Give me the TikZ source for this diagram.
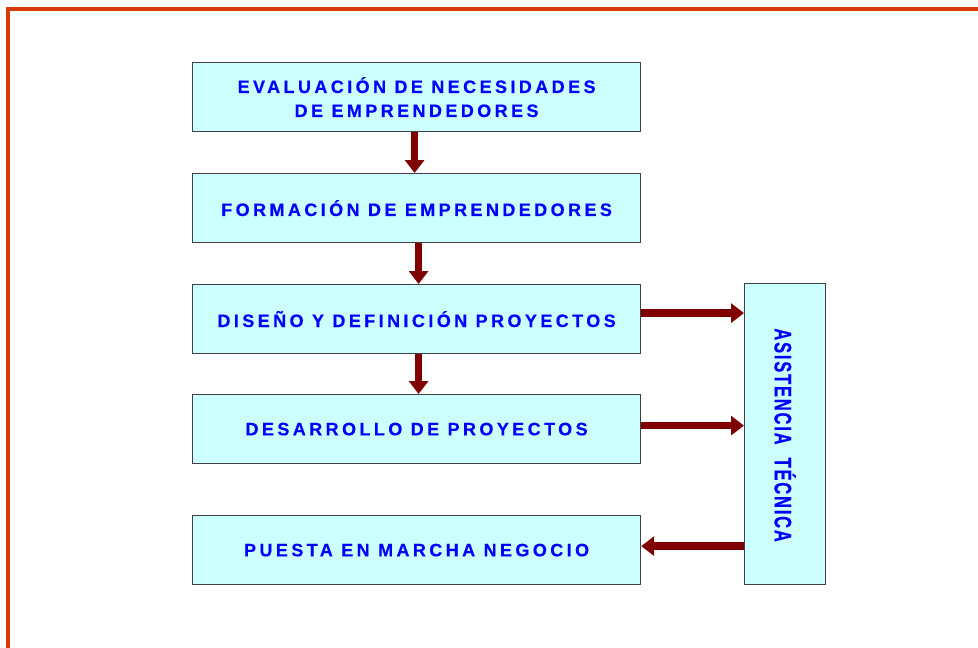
\documentclass[tikz,border=0pt]{standalone}
\usepackage{graphicx}
\usepackage{fontspec}
\setmainfont{Liberation Sans}
\newfontfamily\boxfont[LetterSpace=19,BoldFont={Liberation Sans Bold},BoldFeatures={LetterSpace=19,FakeBold=0.4}]{Liberation Sans}
\newfontfamily\sidefont[LetterSpace=11,BoldFont={Liberation Sans Bold},BoldFeatures={LetterSpace=11,FakeBold=0.6}]{Liberation Sans}
\usetikzlibrary{arrows.meta}
\definecolor{frame}{RGB}{216,60,0}
\definecolor{boxfill}{RGB}{204,255,255}
\definecolor{arrowred}{RGB}{128,0,0}
\definecolor{txtblue}{RGB}{0,0,255}
\begin{document}
\begin{tikzpicture}[x=1pt,y=-1pt,
  stepbox/.style={draw=black!75,line width=1.2pt,fill=boxfill,minimum width=448pt,minimum height=69pt,inner sep=0pt,anchor=north west,text=txtblue,font=\boxfont\bfseries\fontsize{18}{24}\selectfont,align=center},
  flow/.style={draw=arrowred,line width=7.5pt,-{Triangle[width=19pt,length=13pt]}}]
\useasboundingbox (0,0) rectangle (978,648);
\draw[frame,line width=4pt] (8,700) -- (8,9) -- (990,9);
\node[stepbox] (a) at (192,62) {EVALUACIÓN DE NECESIDADES\\DE EMPRENDEDORES};
\node[stepbox] (b) at (192,173) {FORMACIÓN DE EMPRENDEDORES};
\node[stepbox] (c) at (192,284) {DISEÑO Y DEFINICIÓN PROYECTOS};
\node[stepbox] (d) at (192,394) {DESARROLLO DE PROYECTOS};
\node[stepbox] (e) at (192,515) {PUESTA EN MARCHA NEGOCIO};
\node[draw=black!75,line width=1.2pt,fill=boxfill,minimum width=81pt,minimum height=301pt,inner sep=0pt,anchor=north west] (t) at (744,283) {};
\node[rotate=-90,text=txtblue,font=\sidefont\bfseries\fontsize{16.5}{20}\selectfont] (tl) at ([yshift=-1pt]t.center) {\scalebox{1}[1.45]{ASISTENCIA\hspace{13pt}TÉCNICA}};
\coordinate (c1) at ([yshift=6pt]c.east);
\coordinate (d1) at ([yshift=3.5pt]d.east);
\coordinate (e1) at ([yshift=4pt]e.east);
\draw[flow] ([xshift=-2pt]a.south) -- ([xshift=-2pt]b.north);
\draw[flow] ([xshift=2pt]b.south) -- ([xshift=2pt]c.north);
\draw[flow] ([xshift=2pt]c.south) -- ([xshift=2pt]d.north);
\draw[flow] (c1) -- (t.west |- c1);
\draw[flow] (d1) -- (t.west |- d1);
\draw[flow] (t.west |- e1) -- (e1);
\end{tikzpicture}
\end{document}
